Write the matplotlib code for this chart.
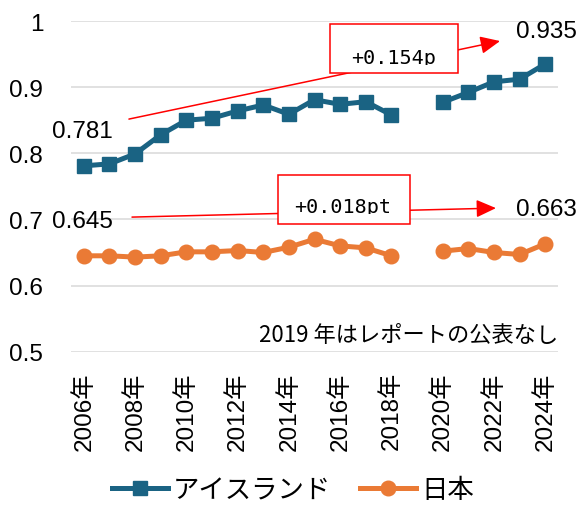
import matplotlib
matplotlib.use("Agg")
import matplotlib.pyplot as plt
from matplotlib.patches import Rectangle
from matplotlib.transforms import Bbox, TransformedBbox
from matplotlib.lines import Line2D
import numpy as np

# data (2019: no report)
years = [2006, 2007, 2008, 2009, 2010, 2011, 2012, 2013, 2014, 2015,
         2016, 2017, 2018, 2019, 2020, 2021, 2022, 2023, 2024]
iceland = [0.781, 0.784, 0.799, 0.828, 0.850, 0.853, 0.864, 0.873, 0.859, 0.881,
           0.874, 0.878, 0.858, np.nan, 0.877, 0.892, 0.908, 0.912, 0.935]
japan = [0.645, 0.645, 0.643, 0.645, 0.651, 0.651, 0.653, 0.650, 0.658, 0.670,
         0.660, 0.657, 0.645, np.nan, 0.652, 0.656, 0.650, 0.647, 0.663]
tick_years = years[::2]
tick_labels = [f"{y}年" for y in tick_years]
y_ticks = [0.5, 0.6, 0.7, 0.8, 0.9, 1.0]
y_labels = ["0.5", "0.6", "0.7", "0.8", "0.9", "1"]

c_ice = "#1a6383"
c_jp = "#ea7a35"
red = "#ff0000"
latin = ["Liberation Sans", "Noto Sans CJK JP"]
cjk = ["Noto Sans CJK JP", "DejaVu Sans"]

fig = plt.figure(figsize=(5.77, 5.06), dpi=100)
ax = fig.add_axes([71 / 577, 1 - 352.7 / 506, 487 / 577, 330.7 / 506])

ax.plot(years, iceland, color=c_ice, lw=3.6, marker="s", ms=10.5, zorder=3)
ax.plot(years, japan, color=c_jp, lw=3.6, marker="o", ms=10.5, zorder=3)

ax.set_xlim(2005.5, 2024.5)
ax.set_ylim(0.5, 1.0)
ax.set_yticks(y_ticks)
ax.set_yticklabels(y_labels, family=latin, fontsize=17.5)
ax.set_xticks(tick_years)
ax.set_xticklabels(tick_labels, family=latin, fontsize=17.5, rotation=90)
ax.tick_params(axis="y", length=0, pad=20)
ax.tick_params(axis="x", length=0, pad=14)
ax.grid(axis="y", color="#d9d9d9", lw=1.1)
ax.set_axisbelow(True)
for s in ax.spines.values():
    s.set_visible(False)

# start / end value labels
lab_kw = dict(family=latin, fontsize=17.5, va="center", ha="left", clip_on=False)
ax.text(2004.76, 0.834, f"{iceland[0]:.3f}", **lab_kw)
ax.text(2022.86, 0.985, f"{iceland[-1]:.3f}", **lab_kw)
ax.text(2004.76, 0.6975, f"{japan[0]:.3f}", **lab_kw)
ax.text(2022.86, 0.7155, f"{japan[-1]:.3f}", **lab_kw)

# red arrows with boxed differences
arrows = [((2007.76, 0.8517), (2022.24, 0.9697)),
          ((2007.88, 0.7035), (2022.08, 0.7171))]
for (x0, y0), (x1, y1) in arrows:
    ax.annotate("", xy=(x1, y1), xytext=(x0, y0), annotation_clip=False,
                arrowprops=dict(arrowstyle="-|>,head_length=0.6,head_width=0.27",
                                mutation_scale=20, color=red, lw=1.1,
                                shrinkA=0, shrinkB=0), zorder=4)

boxes = [(2015.61, 0.9213, 2020.60, 0.9955, 2018.1, 0.9365, 0.9334, "+0.154p"),
         (2013.58, 0.6930, 2018.73, 0.7670, 2016.11, 0.7110, 0.7080, "+0.018pt")]
for bx0, by0, bx1, by1, tx, ty, yclip, txt in boxes:
    ax.add_patch(Rectangle((bx0, by0), bx1 - bx0, by1 - by0, facecolor="white",
                           edgecolor=red, lw=1.1, zorder=5, clip_on=False))
    t = ax.text(tx, ty, txt, family="DejaVu Sans Mono", fontsize=14.5,
                ha="center", va="baseline", zorder=6)
    t.set_clip_box(TransformedBbox(Bbox([[bx0, yclip], [bx1, by1]]), ax.transData))
    t.set_clip_on(True)

ax.text(2024.5, 0.5265, "2019 年はレポートの公表なし", family=cjk, fontsize=16,
        ha="right", va="center")

handles = [Line2D([], [], color=c_ice, lw=3.6, marker="s", ms=10.5),
           Line2D([], [], color=c_jp, lw=3.6, marker="o", ms=10.5)]
fig.legend(handles, ["アイスランド", "日本"], loc="center", bbox_to_anchor=(0.508, 0.03),
           ncol=2, frameon=False, prop={"family": cjk, "size": 19},
           handlelength=2.1, handletextpad=0.2, columnspacing=1.1, borderaxespad=0)

fig.savefig("out.png", dpi=100)
